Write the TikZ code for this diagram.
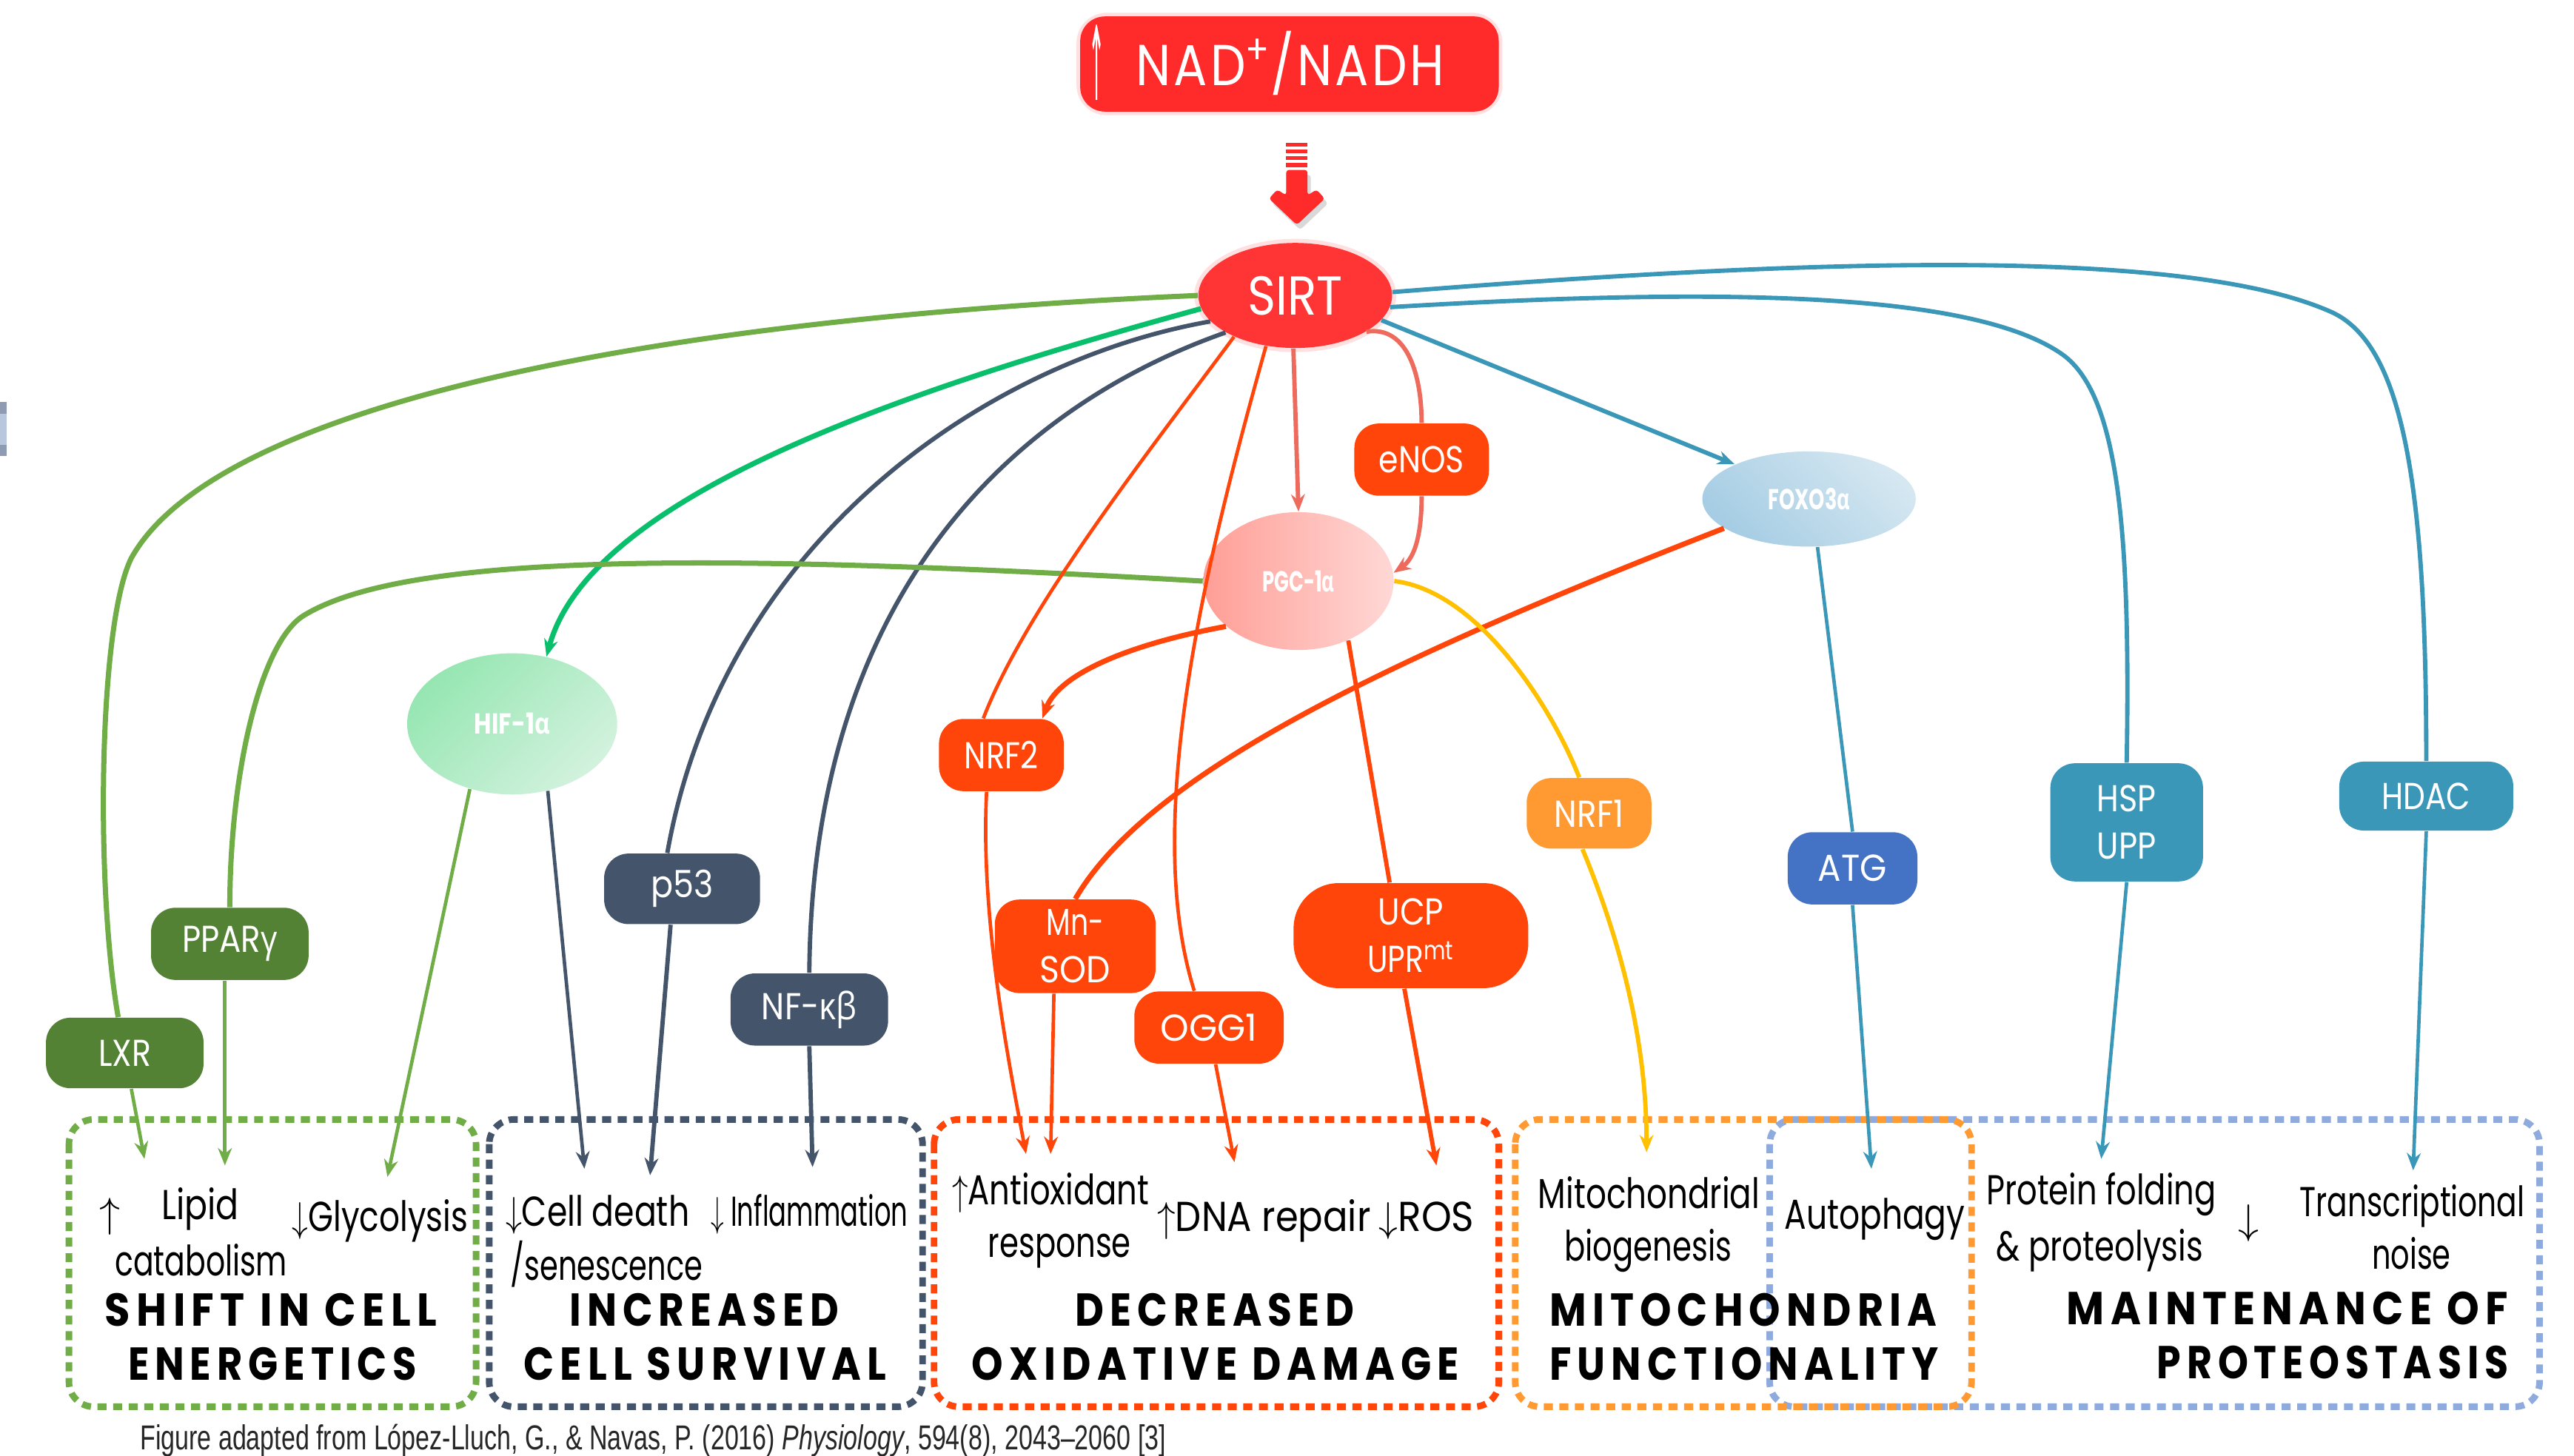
\documentclass[tikz,border=0pt]{standalone}
\usepackage{fontspec}
\usepackage{graphicx}
\setmainfont{Poppins}
\newfontfamily\grk{Open Sans}
\newfontfamily\fnfont[FakeStretch=0.8]{Liberation Sans}
\newfontfamily\hdfont[LetterSpace=15]{Poppins}
\newfontfamily\symfont{DejaVu Sans}
\usetikzlibrary{shapes.geometric,arrows.meta,calc}
\newcommand\fw[2]{\resizebox{#1}{\height}{#2}}
\newcommand\gal{{\grk α}}
\newcommand\ggam{{\grk γ}}
\newcommand\gkap{{\grk κ}}
\newcommand\gbet{{\grk β}}
\definecolor{cNAD}{HTML}{FF2B2B}
\definecolor{cSirt}{HTML}{FF3535}
\definecolor{cOR}{HTML}{FF4509}
\definecolor{cOrange}{HTML}{FF9A33}
\definecolor{cSlate}{HTML}{44546A}
\definecolor{cDGreen}{HTML}{548235}
\definecolor{cGreen}{HTML}{70AD47}
\definecolor{cBright}{HTML}{0ABF6C}
\definecolor{cCoral}{HTML}{EE6A5C}
\definecolor{cYellow}{HTML}{FFC000}
\definecolor{cTeal}{HTML}{3A97B7}
\definecolor{cBlue}{HTML}{4472C4}
\definecolor{cLBlue}{HTML}{8FAADC}
\definecolor{pgcL}{HTML}{FF9E96}
\definecolor{pgcR}{HTML}{FFD8D6}
\definecolor{hifL}{HTML}{96E6B2}
\definecolor{hifR}{HTML}{D2F2DE}
\definecolor{foxL}{HTML}{A6CDE4}
\definecolor{foxR}{HTML}{D5E7F1}
\definecolor{cArtA}{HTML}{8F9BB3}
\definecolor{cArtB}{HTML}{B8C7DE}
\begin{document}
\begin{tikzpicture}[x=0.02cm,y=-0.02cm,
  pill/.style={fill=#1, rounded corners=0.3cm, text=white, inner sep=0pt, align=center, font=\fontsize{13}{16.5}\selectfont},
  blob/.style={ellipse, inner sep=0pt, text=white, font=\bfseries\fontsize{10}{10}\selectfont},
  lA/.style={line width=1.2pt},
  lB/.style={line width=1.5pt},
  lC/.style={line width=1.8pt},
  arw/.style={-{Stealth[length=6pt,width=4.8pt]}},
  dbox/.style={draw=#1, line width=0.08cm, dash pattern=on 0.11cm off 0.08cm, rounded corners=0.3cm},
  btext/.style={anchor=base, inner sep=0pt, font=\fontsize{14.5}{16}\selectfont},
  bsym/.style={inner sep=0pt, font=\fontsize{14.5}{16}\selectfont},
  htext/.style={inner sep=0pt, font=\hdfont\bfseries\fontsize{16}{16}\selectfont},
]
\useasboundingbox (0,0) rectangle (1568,887);
\fill[white] (0,0) rectangle (1568,887);

% left edge fragment
\fill[cArtA] (0,245) rectangle (4,252);
\fill[cArtB] (0,252) rectangle (4,271);
\fill[cArtA] (0,271) rectangle (4,278);

% NAD box
\draw[cNAD, opacity=0.15, line width=2.5pt, rounded corners=0.32cm] (658,10) rectangle (913,68);
\node[fill=cNAD, rounded corners=0.3cm, minimum width=5.1cm, minimum height=1.16cm, inner sep=0pt] (nad) at (785.5,39) {};
\node[text=white, inner sep=0pt] (nadarrow) at (668,38) {\resizebox*{0.2cm}{0.92cm}{\symfont ↑}};
\node[text=white, anchor=base, inner sep=0pt] (nadtext) at (786,52) {\fw{3.76cm}{\fontsize{20}{20}\selectfont\addfontfeature{LetterSpace=6}NAD\textsuperscript{+}/NADH}};

% striped arrow
\fill[black, opacity=0.15, rounded corners=1pt, shift={(2,3)}] (783.5,103.5) -- (783.5,119) -- (778,115.5) -- (773,121) -- (790,137) -- (807,121) -- (802,115.5) -- (796.5,119) -- (796.5,103.5) -- cycle;
\fill[cNAD] (783.5,87) rectangle (796.5,89.5);
\fill[cNAD] (783.5,91) rectangle (796.5,93.5);
\fill[cNAD] (783.5,95) rectangle (796.5,97.5);
\fill[cNAD] (783.5,99) rectangle (796.5,102);
\fill[cNAD, rounded corners=1pt] (783.5,103.5) -- (783.5,119) -- (778,115.5) -- (773,121) -- (790,137) -- (807,121) -- (802,115.5) -- (796.5,119) -- (796.5,103.5) -- cycle;

% SIRT
\fill[cSirt, opacity=0.15] (789,180) ellipse [x radius=61.5, y radius=34.5];
\node[ellipse, fill=cSirt, minimum width=2.36cm, minimum height=1.28cm, inner sep=0pt, text=white] (sirt) at (789,180) {\fw{1.16cm}{\fontsize{19}{19}\selectfont SIRT}};

% ellipses
\node[blob, left color=pgcL, right color=pgcR, minimum width=2.32cm, minimum height=1.68cm] (pgc) at (791,354) {\fw{0.88cm}{PGC-1\gal}};
\node[blob, left color=foxL, right color=foxR, shading angle=135, minimum width=2.6cm, minimum height=1.16cm] (foxo) at (1102,304) {\fw{1.0cm}{FOXO3\gal}};
\node[blob, left color=hifL, right color=hifR, shading angle=45, minimum width=2.56cm, minimum height=1.72cm] (hif) at (312,441) {\fw{0.92cm}{HIF-1\gal}};

% pills
\node[pill=cOR, minimum width=1.64cm, minimum height=0.88cm] (enos) at (866,280) {\fw{1.04cm}{eNOS}};
\node[pill=cOR, minimum width=1.52cm, minimum height=0.88cm] (nrf2) at (610,460) {\fw{0.9cm}{NRF2}};
\node[pill=cOrange, minimum width=1.52cm, minimum height=0.86cm] (nrf1) at (968,495.5) {\fw{0.84cm}{NRF1}};
\node[pill=cSlate, minimum width=1.9cm, minimum height=0.86cm] (p53) at (415.5,541.5) {\fw{0.76cm}{p53}};
\node[pill=cSlate, minimum width=1.92cm, minimum height=0.88cm] (nfkb) at (493,615) {\fw{1.16cm}{NF-\gkap\gbet}};
\node[pill=cDGreen, minimum width=1.92cm, minimum height=0.88cm] (pparg) at (140,575) {\fw{1.16cm}{PPAR\ggam}};
\node[pill=cDGreen, minimum width=1.92cm, minimum height=0.86cm] (lxr) at (76,641.5) {\fw{0.64cm}{LXR}};
\node[pill=cOR, minimum width=1.96cm, minimum height=1.14cm] (mnsod) at (655,576.5) {\fw{0.7cm}{Mn-}\\\fw{0.86cm}{SOD}};
\node[pill=cOR, minimum width=1.82cm, minimum height=0.88cm] (ogg) at (736.5,626) {\fw{1.18cm}{OGG1}};
\node[pill=cOR, rounded corners=0.55cm, minimum width=2.86cm, minimum height=1.28cm] (ucp) at (859.5,570) {\fw{0.8cm}{UCP}\\\fw{1.06cm}{UPR\textsuperscript{mt}}};
\node[pill=cBlue, minimum width=1.58cm, minimum height=0.88cm] (atg) at (1128.5,529) {\fw{0.84cm}{ATG}};
\node[pill=cTeal, minimum width=1.86cm, minimum height=1.44cm] (hsp) at (1295.5,501) {\fw{0.72cm}{HSP}\\\fw{0.72cm}{UPP}};
\node[pill=cTeal, minimum width=2.12cm, minimum height=0.84cm] (hdac) at (1478,485) {\fw{1.08cm}{HDAC}};

% dotted boxes
\draw[dbox=cLBlue] (1078,682) rectangle (1547,857);
\draw[dbox=cGreen] (42,682) rectangle (290,857);
\draw[dbox=cSlate] (298,682) rectangle (562,857);
\draw[dbox=cOR] (569,682) rectangle (913,857);
\draw[dbox=cOrange] (923,682) rectangle (1201,857);

% arrow targets
\coordinate (eLipid1) at (88,706);
\coordinate (eLipid2) at (137,710);
\coordinate (eGly) at (236,717);
\coordinate (eDeath1) at (356,712);
\coordinate (eDeath2) at (396,716);
\coordinate (eInfl) at (495,711);
\coordinate (eAnti1) at (625,703);
\coordinate (eAnti2) at (640,703);
\coordinate (eDNA) at (752,708);
\coordinate (eROS) at (875,710);
\coordinate (eMito) at (1003,702);
\coordinate (eAuto) at (1140,712);
\coordinate (eProt) at (1280,706);
\coordinate (eTrans) at (1470,713);

% connectors
\draw[cGreen, lC] (sirt.180) .. controls (380,195) and (130,250) .. (80,340) .. controls (60,380) and (58,540) .. ($(lxr.north)+(-4,0)$);
\draw[cGreen, lA, arw] ($(lxr.south)+(4,0)$) -- (eLipid1);
\draw[cBright, lC, arw] (sirt.188) .. controls (560,235) and (360,300) .. (hif.63);
\draw[cGreen, lA, arw] (hif.237) -- (eGly);
\draw[cSlate, lA, arw] (hif.298) -- (eDeath1);
\draw[cSlate, lB] (sirt.197) .. controls (600,220) and (440,330) .. ($(p53.north)+(-9,0)$);
\draw[cSlate, lB, arw] ($(p53.south)+(-7,0)$) -- (eDeath2);
\draw[cSlate, lB] (sirt.208) .. controls (640,240) and (495,340) .. (nfkb.north);
\draw[cSlate, lB, arw] (nfkb.south) -- (eInfl);
\draw[cGreen, lC] (pgc.west) .. controls (450,338) and (250,335) .. (185,375) .. controls (159,391) and (140,470) .. (pparg.north);
\draw[cGreen, lA, arw] ($(pparg.south)+(-3,0)$) -- (eLipid2);
\draw[cOR, lA] (sirt.214) .. controls (700,275) and (625,370) .. ($(nrf2.north)+(-11,0)$);
\draw[cOR, lA, arw] ($(nrf2.south)+(-9,0)$) .. controls (597,560) and (615,650) .. (eAnti1);
\draw[cOR, lC, arw] (pgc.212) .. controls (690,392) and (645,410) .. ($(nrf2.north)+(25,0)$);
\draw[cOR, lA] (sirt.240) .. controls (735,340) and (695,500) .. ($(ogg.north)+(-9,0)$);
\draw[cOR, lA, arw] ($(ogg.south)+(4,0)$) -- (eDNA);
\draw[cCoral, lB, arw] (sirt.268) -- (pgc.north);
\draw[cCoral, lB] (sirt.333) .. controls (858,198) and (866,230) .. (enos.north);
\draw[cCoral, lB, arw] (enos.south) .. controls (866,325) and (862,340) .. (pgc.5);
\draw[cOR, lC] (foxo.199) .. controls (850,400) and (700,470) .. (mnsod.north);
\draw[cOR, lA, arw] ($(mnsod.south)+(-13,0)$) -- (eAnti2);
\draw[cOR, lB] (pgc.310) -- ($(ucp.north)+(-13,0)$);
\draw[cOR, lB, arw] ($(ucp.south)+(-4,0)$) -- (eROS);
\draw[cYellow, lB] (pgc.east) .. controls (900,360) and (945,430) .. ($(nrf1.north)+(-6,0)$);
\draw[cYellow, lB, arw] ($(nrf1.south)+(-4,0)$) .. controls (990,580) and (1003,640) .. (eMito);
\draw[cTeal, lB, arw] (sirt.344) -- (foxo.155);
\draw[cTeal, lA] (foxo.280) -- (atg.north);
\draw[cTeal, lA, arw] (atg.south) -- (eAuto);
\draw[cTeal, lB] (sirt.353) .. controls (1050,175) and (1200,178) .. (1255,215) .. controls (1290,238) and (1298,320) .. (hsp.north);
\draw[cTeal, lA, arw] (hsp.south) -- (eProt);
\draw[cTeal, lB] (sirt.2) .. controls (1100,158) and (1330,150) .. (1420,190) .. controls (1465,210) and (1478,300) .. (hdac.north);
\draw[cTeal, lA, arw] (hdac.south) -- (eTrans);

% box texts
\node[btext] (t1) at (122,743) {\fw{0.94cm}{Lipid}};
\node[btext] (t2) at (122.5,777) {\fw{2.1cm}{catabolism}};
\node[bsym] (t3) at (67,741) {$\uparrow$};
\node[btext] (t4) at (231.5,750) {\fw{2.14cm}{$\downarrow$Glycolysis}};
\node[btext] (t5) at (364,747) {\fw{2.24cm}{$\downarrow$Cell death}};
\node[btext] (t6) at (369.5,780) {\fw{2.34cm}{/senescence}};
\node[btext] (t7) at (493,747) {\fw{2.4cm}{$\downarrow$ Inflammation}};
\node[btext] (t8) at (640,734) {\fw{2.4cm}{$\uparrow$Antioxidant}};
\node[btext] (t9) at (645.5,766) {\fw{1.74cm}{response}};
\node[btext] (t10) at (770,750) {\fw{2.6cm}{$\uparrow$DNA repair}};
\node[btext] (t11) at (869,750) {\fw{1.16cm}{$\downarrow$ROS}};
\node[btext] (t12) at (1004.5,736) {\fw{2.7cm}{Mitochondrial}};
\node[btext] (t13) at (1004,768) {\fw{2.04cm}{biogenesis}};
\node[btext] (t14) at (1142,749) {\fw{2.2cm}{Autophagy}};
\node[btext] (t15) at (1280,734) {\fw{2.8cm}{Protein folding}};
\node[btext] (t16) at (1279,768) {\fw{2.52cm}{\& proteolysis}};
\node[bsym] (t17) at (1370,745) {$\downarrow$};
\node[btext] (t18) at (1469.5,741) {\fw{2.74cm}{Transcriptional}};
\node[btext] (t19) at (1469,773) {\fw{0.96cm}{noise}};

% headings
\node[htext] (h1) at (165,798) {\fw{4.04cm}{SHIFT IN CELL}};
\node[htext] (h2) at (166,831) {\fw{3.52cm}{ENERGETICS}};
\node[htext] (h3) at (429,798) {\fw{3.28cm}{INCREASED}};
\node[htext] (h4) at (429.5,831) {\fw{4.42cm}{CELL SURVIVAL}};
\node[htext] (h5) at (740,798) {\fw{3.4cm}{DECREASED}};
\node[htext] (h6) at (740.5,831) {\fw{5.94cm}{OXIDATIVE DAMAGE}};
\node[htext] (h7) at (1062,798) {\fw{4.72cm}{MITOCHONDRIA}};
\node[htext] (h8) at (1062.5,831) {\fw{4.74cm}{FUNCTIONALITY}};
\node[htext] (h9) at (1393.5,797) {\fw{5.38cm}{MAINTENANCE OF}};
\node[htext] (h10) at (1421,830) {\fw{4.28cm}{PROTEOSTASIS}};

% footnote
\node[anchor=base west, inner sep=0pt, text=black!85] (foot) at (85,883) {\fnfont\fontsize{12}{12}\selectfont\fw{12.5cm}{Figure adapted from López-Lluch, G., \& Navas, P. (2016) \textit{Physiology}, 594(8), 2043–2060 [3]}};
\end{tikzpicture}
\end{document}
